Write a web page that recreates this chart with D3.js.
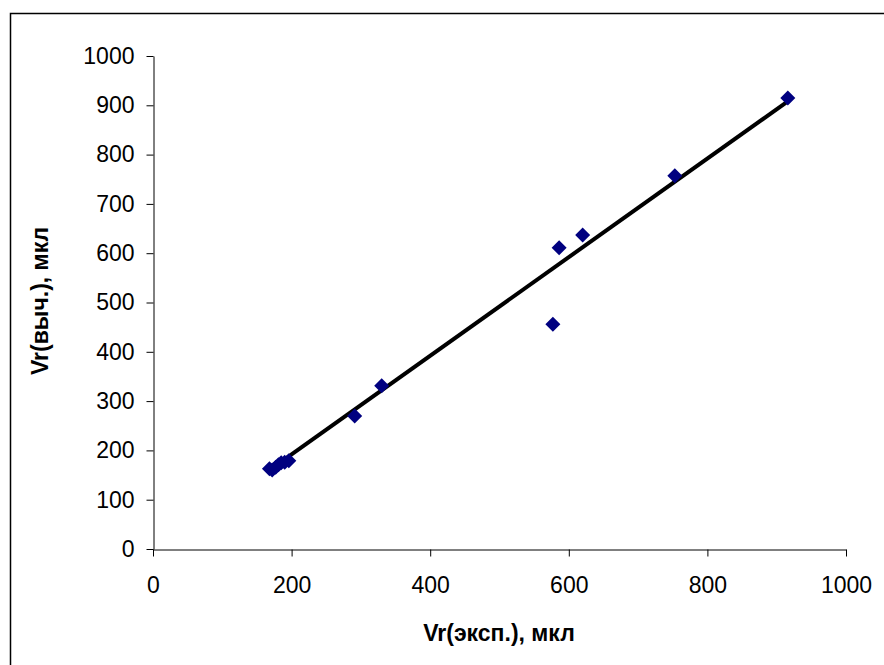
<!DOCTYPE html>
<html><head><meta charset="utf-8">
<script src="https://cdn.jsdelivr.net/npm/d3@7"></script>
<style>body{margin:0;background:#fff}svg{display:block}</style>
</head><body>
<script>
const xExp = [168, 172, 177, 181, 185, 190, 196, 291, 330, 577, 586, 620, 753, 916];
const yCalc = [163, 160, 166, 171, 175, 176, 179, 270, 331, 456, 611, 637, 757, 915];
const xTicks = [0, 200, 400, 600, 800, 1000];
const yTicks = [0, 100, 200, 300, 400, 500, 600, 700, 800, 900, 1000];
const trendSlope = [1.0];
const trendIntercept = [-8];
const xTitle = "Vr(эксп.), мкл";
const yTitle = "Vr(выч.), мкл";

const W = 884, H = 665;
const svg = d3.select("body").append("svg").attr("width", W).attr("height", H);
svg.append("rect").attr("width", W).attr("height", H).attr("fill", "#fff");
svg.append("path").attr("d", `M10.5,${H} V13.5 H${W}`).attr("fill","none").attr("stroke","#000").attr("stroke-width",1.5);

const x = d3.scaleLinear().domain([0, 1000]).range([153, 846]);
const y = d3.scaleLinear().domain([0, 1000]).range([549, 56]);
const font = "'Liberation Sans', Arial, sans-serif";
const fmt = d3.format("d");
const FS = "23px";

const xAxis = svg.append("g").attr("transform", "translate(0,549.5)")
  .call(d3.axisBottom(x).tickValues(xTicks).tickFormat(fmt).tickSize(7).tickSizeOuter(0).tickPadding(20));
const yAxis = svg.append("g").attr("transform", "translate(153.5,0)")
  .call(d3.axisLeft(y).tickValues(yTicks).tickFormat(fmt).tickSize(7).tickSizeOuter(0).tickPadding(12));
[xAxis, yAxis].forEach(g => {
  g.attr("font-family", font);
  g.select(".domain").attr("stroke", "#000");
  g.selectAll(".tick line").attr("stroke", "#000");
  g.selectAll("text").attr("fill", "#000").style("font-size", FS).style("font-family", font);
});

const xs = [d3.min(xExp), d3.max(xExp)];
svg.append("line")
  .attr("x1", x(xs[0])).attr("y1", y(trendSlope[0]*xs[0] + trendIntercept[0]))
  .attr("x2", x(xs[1])).attr("y2", y(trendSlope[0]*xs[1] + trendIntercept[0]))
  .attr("stroke", "#000").attr("stroke-width", 4);

svg.append("g").selectAll("path").data(xExp.map((v,i)=>[v,yCalc[i]])).join("path")
  .attr("d", "M0,-7.5L7.5,0L0,7.5L-7.5,0Z")
  .attr("transform", d => `translate(${x(d[0])},${y(d[1])})`)
  .attr("fill", "#000080");

svg.append("text").attr("x", 499).attr("y", 641).attr("text-anchor", "middle")
  .style("font-family", font).style("font-size", FS).attr("font-weight", "bold").text(xTitle);
svg.append("text").attr("transform", "translate(48,301) rotate(-90)").attr("text-anchor", "middle")
  .style("font-family", font).style("font-size", FS).attr("font-weight", "bold").text(yTitle);
</script>
</body></html>
